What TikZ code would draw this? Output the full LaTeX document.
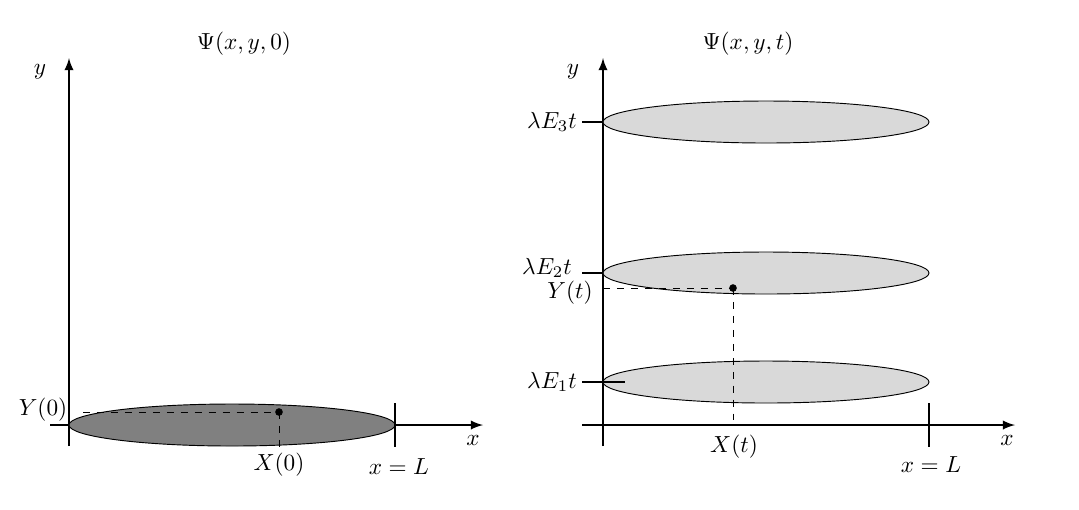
\documentclass[tikz,border=0pt]{standalone}
\usepackage{amsmath,amssymb}
\usepackage{xcolor}
\usetikzlibrary{calc}
\definecolor{lightshade}{gray}{0.85}
\begin{document}
\begin{tikzpicture}[x=0.0151cm,y=-0.0151cm]
		\useasboundingbox (0,0) rectangle (1079,509);
		% left picture: the packet at t = 0
		\coordinate (OriginA)   at (69,425);
		\coordinate (XAxisMinA) at (50,425);
		\coordinate (XAxisMaxA) at (483,425);
		\coordinate (YAxisMinA) at (69,446);
		\coordinate (YAxisMaxA) at (69,58);
		\draw [line width=0.8pt, black,-latex] (XAxisMinA) -- (XAxisMaxA);% Draw x axis
		\draw [line width=0.8pt, black,-latex] (YAxisMinA) -- (YAxisMaxA);% Draw y axis

		\filldraw[fill=gray, draw=black, thin] (232,425)
			ellipse [x radius=163, y radius=21];

		\coordinate (LTopA) at (395,403);
		\coordinate (LBotA) at (395,447);
		\draw [line width=0.8pt] (LTopA) -- (LBotA);% x = L mark

		\coordinate (DotA)  at (279,412);
		\coordinate (YEndA) at (83,412);
		\coordinate (XEndA) at (279,449);
		\draw [dashed] (YEndA) -- (DotA);
		\draw [dashed] (DotA) -- (XEndA);
		\node[draw,circle,inner sep=1pt,fill,black] (PointA) at (DotA) {};

		\node (TitleA) at (244,44) {$\Psi(x,y,0)$};
		\node (YNameA) at (40,72) {$y$};
		\node (XNameA) at (473,440) {$x$};
		\node (YValA) at (43,410) {$Y(0)$};
		\node (XValA) at (279,465) {$X(0)$};
		\node (LValA) at (399,467) {$x=L$};

		% right picture: the packet at time t
		\coordinate (OriginB)   at (603,425);
		\coordinate (XAxisMinB) at (582,425);
		\coordinate (XAxisMaxB) at (1015,425);
		\coordinate (YAxisMinB) at (603,446);
		\coordinate (YAxisMaxB) at (603,58);
		\draw [line width=0.8pt, black,-latex] (XAxisMinB) -- (XAxisMaxB);% Draw x axis
		\draw [line width=0.8pt, black,-latex] (YAxisMinB) -- (YAxisMaxB);% Draw y axis

		\foreach \yy in {122,273,382}{% one ellipse for each level
			\filldraw[fill=lightshade, draw=black, thin] (766,\yy)
				ellipse [x radius=163, y radius=21];
		}

		\coordinate (LTopB) at (929,403);
		\coordinate (LBotB) at (929,447);
		\draw [line width=0.8pt] (LTopB) -- (LBotB);% x = L mark

		\coordinate (EThreeL) at (582,122);
		\coordinate (EThreeR) at (603,122);
		\coordinate (ETwoL)   at (582,273);
		\coordinate (ETwoR)   at (603,273);
		\coordinate (EOneL)   at (582,382);
		\coordinate (EOneR)   at (625,382);
		\draw [line width=0.8pt] (EThreeL) -- (EThreeR);
		\draw [line width=0.8pt] (ETwoL) -- (ETwoR);
		\draw [line width=0.8pt] (EOneL) -- (EOneR);

		\coordinate (DotB)  at (733,288);
		\coordinate (YEndB) at (603,288);
		\coordinate (XEndB) at (733,420);
		\draw [dashed] (YEndB) -- (DotB);
		\draw [dashed] (DotB) -- (XEndB);
		\node[draw,circle,inner sep=1pt,fill,black] (PointB) at (DotB) {};

		\node (TitleB) at (748,44) {$\Psi(x,y,t)$};
		\node (YNameB) at (573,72) {$y$};
		\node (XNameB) at (1007,440) {$x$};
		\node (EThree) at (552,122) {$\lambda E_3 t$};
		\node[inner sep=1pt] (ETwo) at (547,268) {$\lambda E_2 t$};
		\node[inner sep=1pt] (YValB) at (570,293) {$Y(t)$};
		\node (EOne)   at (552,382) {$\lambda E_1 t$};
		\node (XValB)  at (734,447) {$X(t)$};
		\node (LValB)  at (931,465) {$x=L$};
	  \end{tikzpicture}
\end{document}
